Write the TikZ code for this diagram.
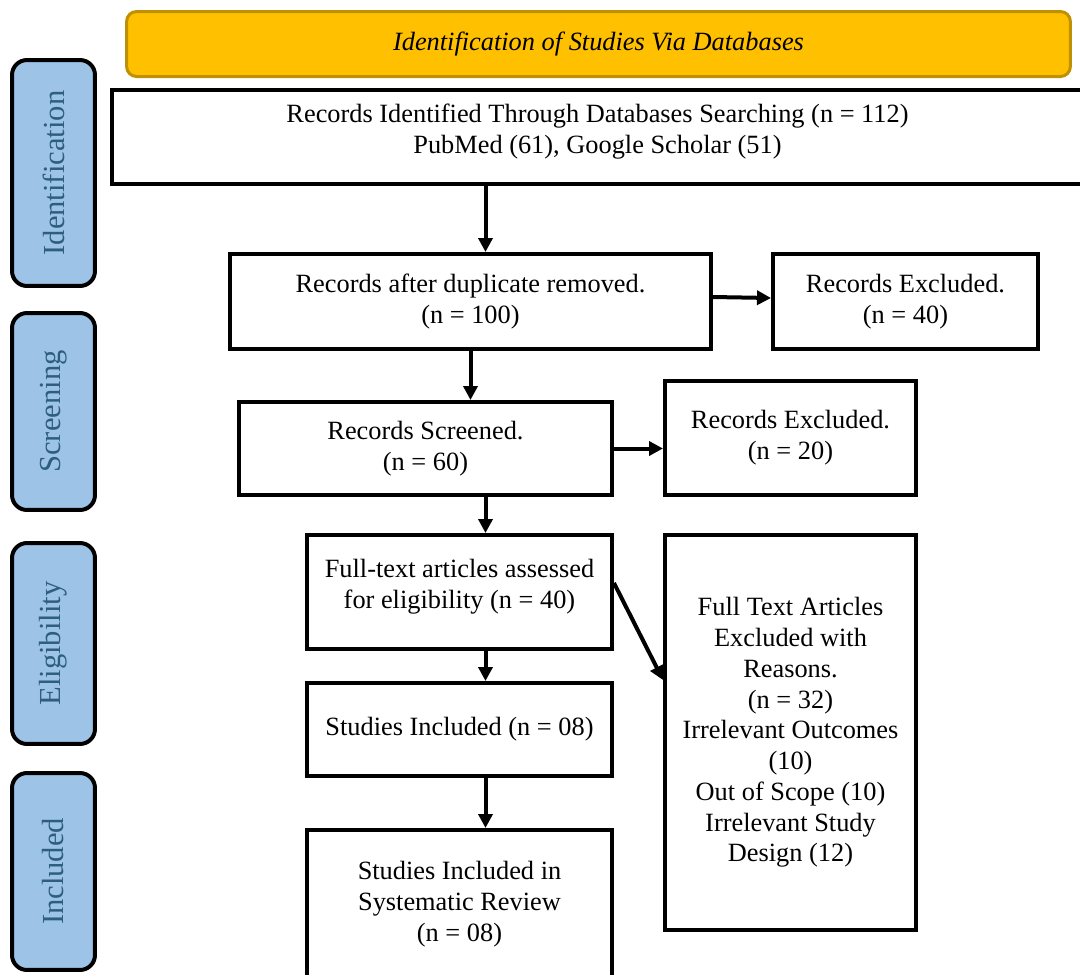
\documentclass[tikz,border=0pt]{standalone}
\usepackage{fontspec}
\setmainfont{Liberation Serif}
\usetikzlibrary{arrows.meta}

\definecolor{bannerfill}{HTML}{FFC000}
\definecolor{bannerline}{HTML}{BF9000}
\definecolor{phasefill}{HTML}{9DC3E6}
\definecolor{phasetext}{HTML}{2E5E7E}

\begin{document}
\begin{tikzpicture}[x=0.02cm,y=-0.02cm,
  font=\fontsize{15pt}{17.5pt}\selectfont,
  >={Triangle[length=0.28cm,width=0.28cm]},
  flow/.style={draw,line width=0.08cm,align=center,inner sep=0pt},
  phase/.style={draw,line width=0.08cm,rounded corners=0.3cm,fill=phasefill,
    text=phasetext,rotate=90,minimum height=1.66cm,inner sep=0pt,
    font=\fontsize{17.4pt}{20pt}\selectfont},
  link/.style={->,line width=0.08cm}]
\useasboundingbox (0,0) rectangle (1080,975);
% banner
\node [draw=bannerline,line width=0.06cm,fill=bannerfill,rounded corners=0.2cm,
  minimum width=18.88cm,minimum height=1.30cm,inner sep=0pt] (banner) at (598.5,44)
  {\itshape Identification of Studies Via Databases};
% phases
\node [phase,minimum width=4.52cm] (pident) at (53.5,173) {Identification};
\node [phase,minimum width=3.94cm] (pscreen) at (53.5,411.5) {Screening};
\node [phase,minimum width=4.02cm] (pelig) at (53.5,643.5) {Eligibility};
\node [phase,minimum width=3.94cm] (pincl) at (53.5,871.5) {Included};
% main column
\node [flow,minimum width=19.42cm,minimum height=1.88cm,text depth=0.32cm] (search) at (597.5,137)
  {Records Identified Through Databases Searching (n = 112)\\PubMed (61), Google Scholar (51)};
\node [flow,minimum width=9.62cm,minimum height=1.90cm] (dup) at (470.5,301.5)
  {Records after duplicate removed.\\(n = 100)};
\node [flow,minimum width=7.46cm,minimum height=1.86cm] (screen) at (425.5,448.5)
  {Records Screened.\\(n = 60)};
\node [flow,minimum width=6.10cm,minimum height=2.28cm,text depth=0.32cm] (full) at (459.5,592)
  {Full-text articles assessed\\for eligibility (n = 40)};
\node [flow,minimum width=6.10cm,minimum height=1.86cm] (incl) at (459.5,729.5)
  {Studies Included (n = 08)};
\node [flow,minimum width=6.10cm,minimum height=2.96cm] (review) at (459.5,904)
  {Studies Included in\\Systematic Review\\(n = 08)};
% excluded column
\node [flow,minimum width=5.30cm,minimum height=1.90cm] (excl1) at (905.5,301.5)
  {Records Excluded.\\(n = 40)};
\node [flow,minimum width=5.02cm,minimum height=2.28cm] (excl2) at (790.5,438)
  {Records Excluded.\\(n = 20)};
\node [flow,minimum width=5.02cm,minimum height=7.90cm] (excl3) at (790.5,732.5)
  {Full Text Articles\\Excluded with\\Reasons.\\(n = 32)\\Irrelevant Outcomes\\(10)\\Out of Scope (10)\\Irrelevant Study\\Design (12)};
% arrows
\coordinate (spine) at (485.5,0);
\draw [link] (search.south -| spine) -- (dup.north -| spine);
\draw [link] (dup.east |- 0,297) -- (excl1.west |- 0,298);
\draw [link] (dup.south) -- (dup.south |- screen.north);
\draw [link] (screen.east) -- (screen.east -| excl2.west);
\draw [link] (screen.south -| spine) -- (full.north -| spine);
\draw [link] (full.east |- 0,583) -- (excl3.west |- 0,680);
\draw [link] (full.south -| spine) -- (incl.north -| spine);
\draw [link] (incl.south -| spine) -- (review.north -| spine);
\end{tikzpicture}
\end{document}
